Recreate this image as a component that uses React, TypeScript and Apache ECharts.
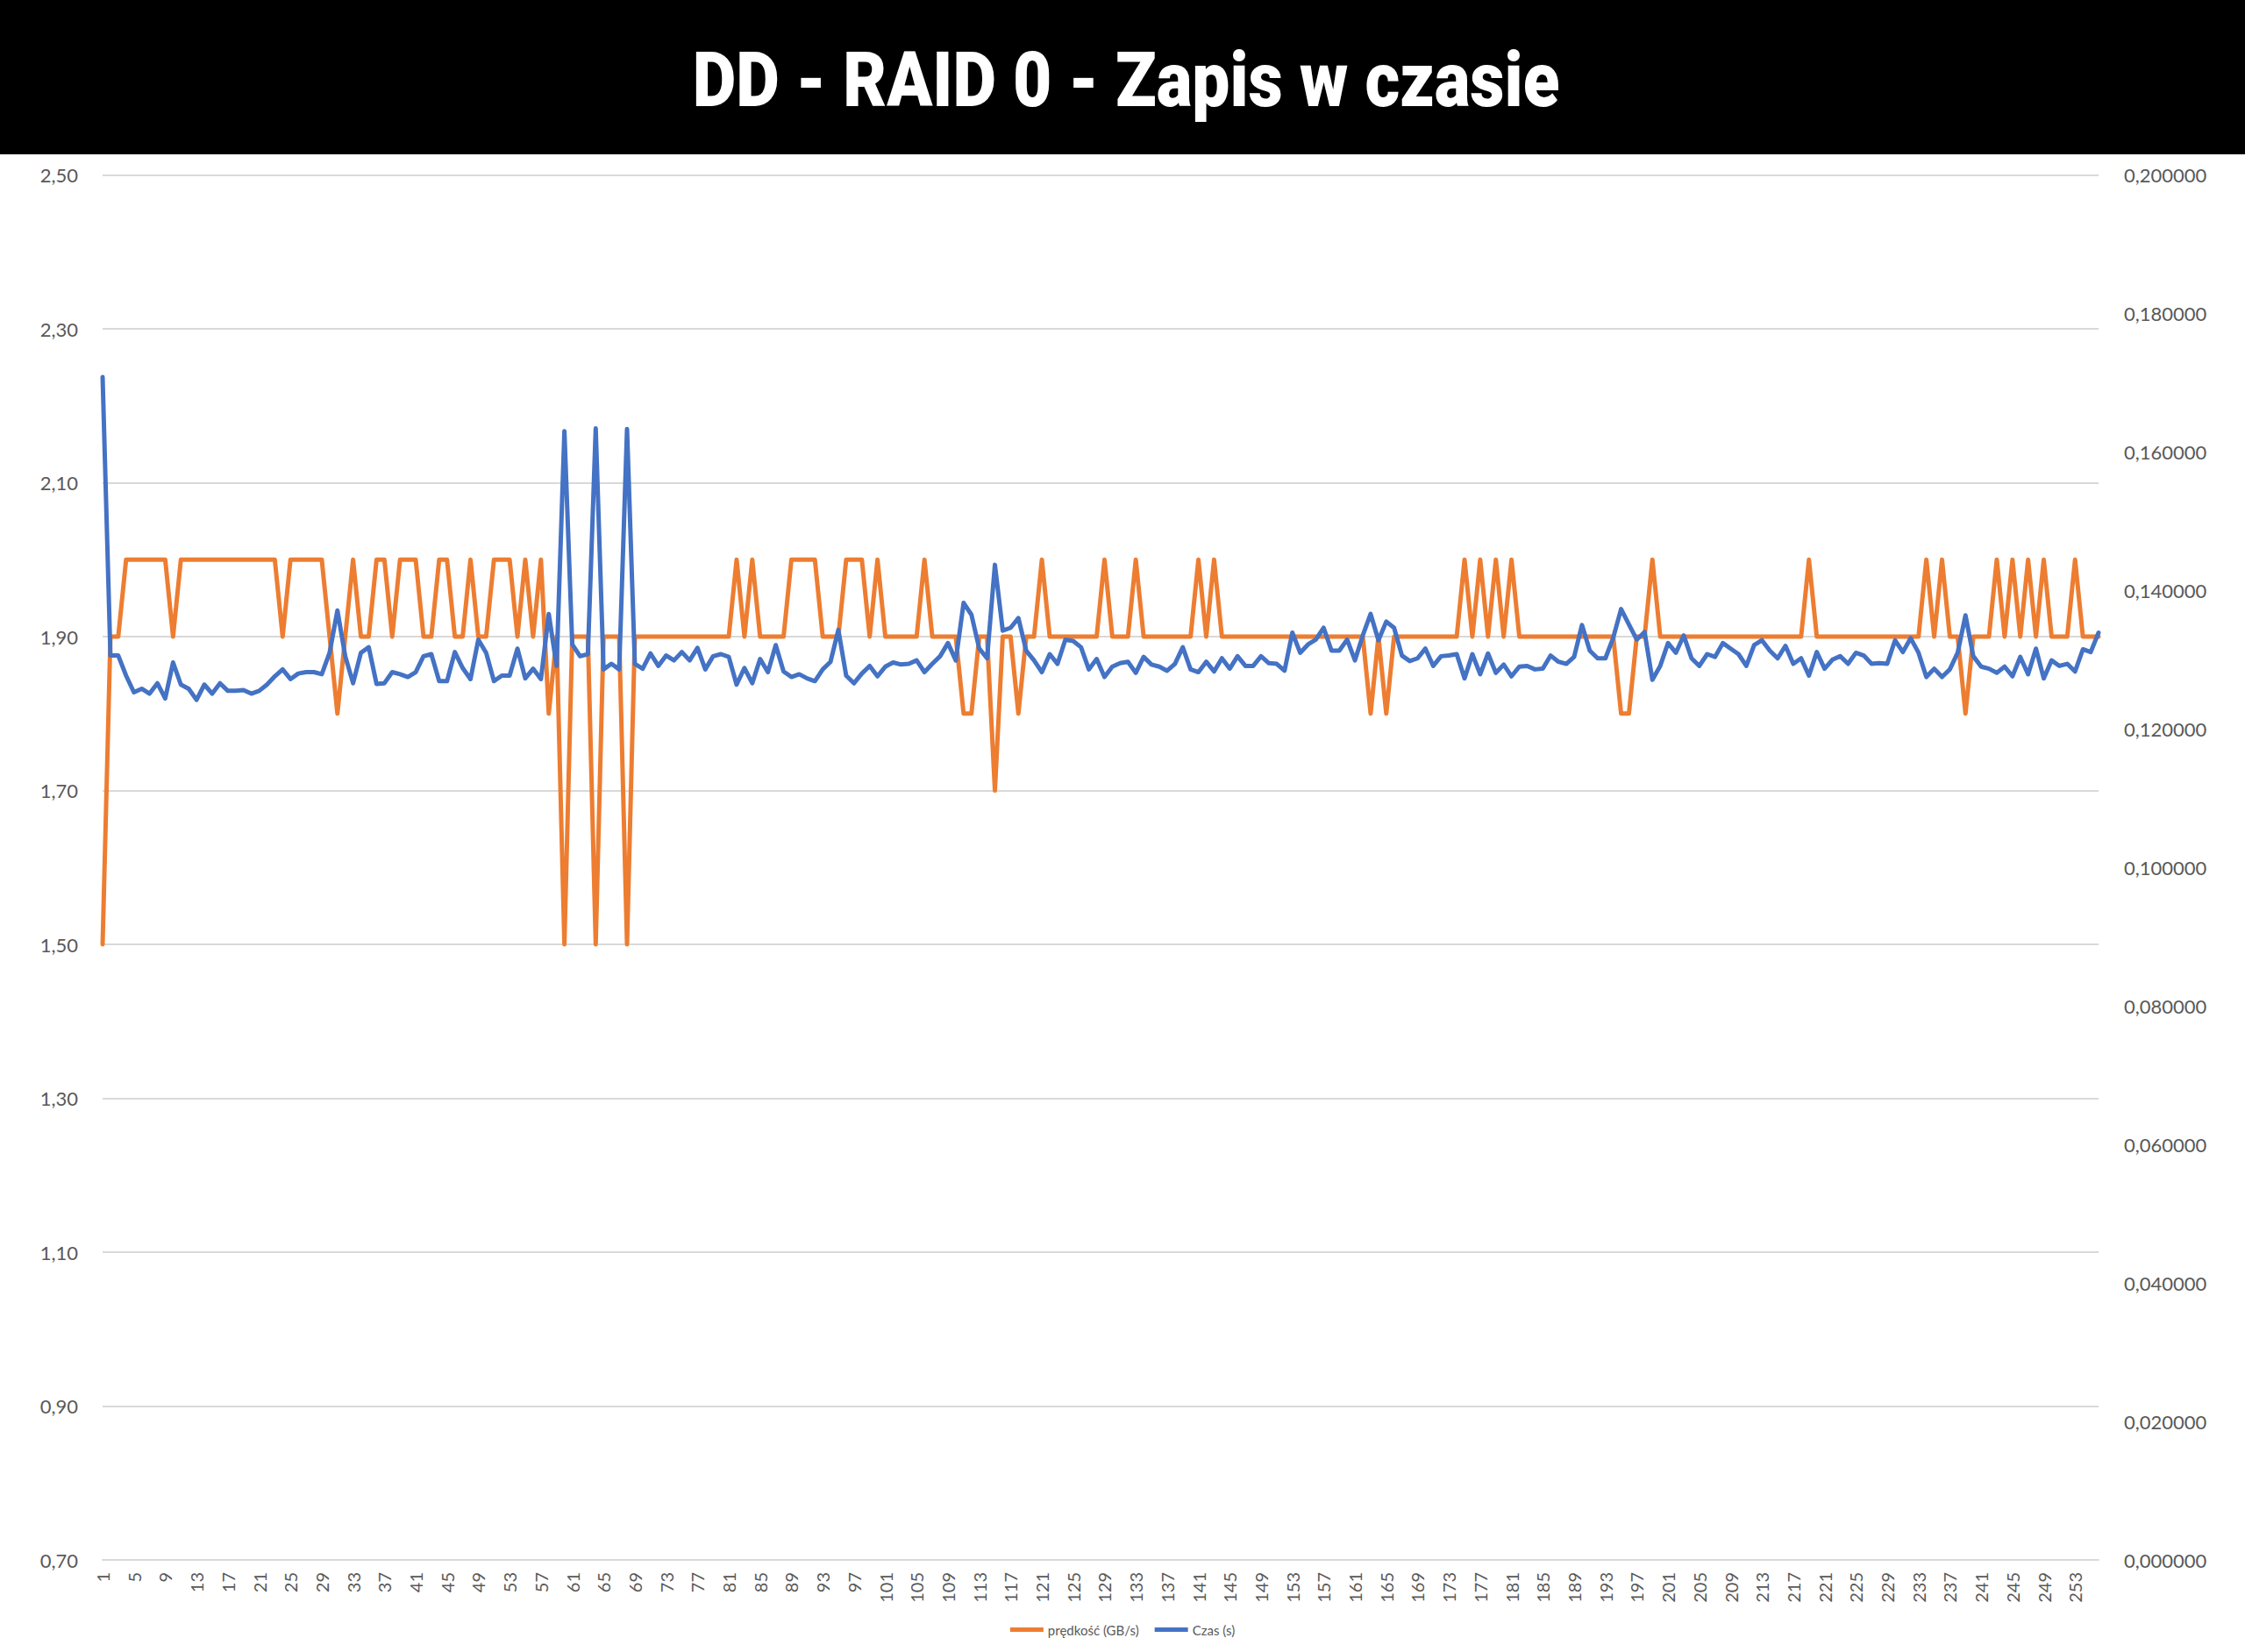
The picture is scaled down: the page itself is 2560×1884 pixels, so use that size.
import React, { useEffect, useRef } from 'react';
import * as echarts from 'echarts';

const TITLE = 'DD - RAID 0 - Zapis w czasie';
const SPEED_NAME = 'prędkość (GB/s)';
const TIME_NAME = 'Czas (s)';

const categories: string[] = Array.from({ length: 256 }, (_, i) => String(i + 1));

const speed: number[] = [
  1.5, 1.9, 1.9, 2.0, 2.0, 2.0, 2.0, 2.0, 2.0, 1.9, 2.0, 2.0, 2.0, 2.0, 2.0, 2.0,
  2.0, 2.0, 2.0, 2.0, 2.0, 2.0, 2.0, 1.9, 2.0, 2.0, 2.0, 2.0, 2.0, 1.9, 1.8, 1.9,
  2.0, 1.9, 1.9, 2.0, 2.0, 1.9, 2.0, 2.0, 2.0, 1.9, 1.9, 2.0, 2.0, 1.9, 1.9, 2.0,
  1.9, 1.9, 2.0, 2.0, 2.0, 1.9, 2.0, 1.9, 2.0, 1.8, 1.9, 1.5, 1.9, 1.9, 1.9, 1.5,
  1.9, 1.9, 1.9, 1.5, 1.9, 1.9, 1.9, 1.9, 1.9, 1.9, 1.9, 1.9, 1.9, 1.9, 1.9, 1.9,
  1.9, 2.0, 1.9, 2.0, 1.9, 1.9, 1.9, 1.9, 2.0, 2.0, 2.0, 2.0, 1.9, 1.9, 1.9, 2.0,
  2.0, 2.0, 1.9, 2.0, 1.9, 1.9, 1.9, 1.9, 1.9, 2.0, 1.9, 1.9, 1.9, 1.9, 1.8, 1.8,
  1.9, 1.9, 1.7, 1.9, 1.9, 1.8, 1.9, 1.9, 2.0, 1.9, 1.9, 1.9, 1.9, 1.9, 1.9, 1.9,
  2.0, 1.9, 1.9, 1.9, 2.0, 1.9, 1.9, 1.9, 1.9, 1.9, 1.9, 1.9, 2.0, 1.9, 2.0, 1.9,
  1.9, 1.9, 1.9, 1.9, 1.9, 1.9, 1.9, 1.9, 1.9, 1.9, 1.9, 1.9, 1.9, 1.9, 1.9, 1.9,
  1.9, 1.9, 1.8, 1.9, 1.8, 1.9, 1.9, 1.9, 1.9, 1.9, 1.9, 1.9, 1.9, 1.9, 2.0, 1.9,
  2.0, 1.9, 2.0, 1.9, 2.0, 1.9, 1.9, 1.9, 1.9, 1.9, 1.9, 1.9, 1.9, 1.9, 1.9, 1.9,
  1.9, 1.9, 1.8, 1.8, 1.9, 1.9, 2.0, 1.9, 1.9, 1.9, 1.9, 1.9, 1.9, 1.9, 1.9, 1.9,
  1.9, 1.9, 1.9, 1.9, 1.9, 1.9, 1.9, 1.9, 1.9, 1.9, 2.0, 1.9, 1.9, 1.9, 1.9, 1.9,
  1.9, 1.9, 1.9, 1.9, 1.9, 1.9, 1.9, 1.9, 1.9, 2.0, 1.9, 2.0, 1.9, 1.9, 1.8, 1.9,
  1.9, 1.9, 2.0, 1.9, 2.0, 1.9, 2.0, 1.9, 2.0, 1.9, 1.9, 1.9, 2.0, 1.9, 1.9, 1.9,
];

const time: number[] = [
  0.1708, 0.1306, 0.1306, 0.1277, 0.1253, 0.1258, 0.1251, 0.1266, 0.1244, 0.1296, 0.1264, 0.1258, 0.1242, 0.1264, 0.1251, 0.1266,
  0.1255, 0.1255, 0.1256, 0.1251, 0.1255, 0.1264, 0.1276, 0.1286, 0.1272, 0.1280, 0.1282, 0.1282, 0.1279, 0.1310, 0.1371, 0.1305,
  0.1266, 0.1310, 0.1318, 0.1265, 0.1266, 0.1282, 0.1279, 0.1275, 0.1282, 0.1305, 0.1308, 0.1269, 0.1269, 0.1311, 0.1288, 0.1272,
  0.1329, 0.1310, 0.1269, 0.1277, 0.1277, 0.1316, 0.1273, 0.1287, 0.1272, 0.1366, 0.1291, 0.1630, 0.1322, 0.1305, 0.1308, 0.1634,
  0.1286, 0.1294, 0.1286, 0.1633, 0.1294, 0.1287, 0.1309, 0.1291, 0.1306, 0.1299, 0.1311, 0.1299, 0.1317, 0.1286, 0.1305, 0.1308,
  0.1304, 0.1264, 0.1288, 0.1266, 0.1301, 0.1282, 0.1321, 0.1283, 0.1275, 0.1279, 0.1273, 0.1269, 0.1286, 0.1297, 0.1343, 0.1277,
  0.1266, 0.1280, 0.1291, 0.1276, 0.1290, 0.1296, 0.1293, 0.1294, 0.1299, 0.1282, 0.1294, 0.1305, 0.1324, 0.1299, 0.1382, 0.1365,
  0.1316, 0.1302, 0.1437, 0.1342, 0.1346, 0.1360, 0.1313, 0.1299, 0.1282, 0.1308, 0.1294, 0.1329, 0.1327, 0.1318, 0.1286, 0.1301,
  0.1275, 0.1290, 0.1295, 0.1297, 0.1281, 0.1304, 0.1293, 0.1290, 0.1284, 0.1294, 0.1318, 0.1286, 0.1282, 0.1297, 0.1283, 0.1302,
  0.1287, 0.1305, 0.1291, 0.1291, 0.1305, 0.1295, 0.1294, 0.1284, 0.1339, 0.1310, 0.1322, 0.1329, 0.1346, 0.1313, 0.1313, 0.1329,
  0.1299, 0.1335, 0.1366, 0.1328, 0.1355, 0.1346, 0.1306, 0.1298, 0.1302, 0.1316, 0.1291, 0.1305, 0.1306, 0.1308, 0.1273, 0.1308,
  0.1279, 0.1309, 0.1281, 0.1293, 0.1276, 0.1290, 0.1291, 0.1286, 0.1287, 0.1306, 0.1297, 0.1294, 0.1304, 0.1350, 0.1313, 0.1302,
  0.1302, 0.1332, 0.1373, 0.1351, 0.1329, 0.1340, 0.1271, 0.1291, 0.1324, 0.1310, 0.1335, 0.1302, 0.1291, 0.1308, 0.1304, 0.1324,
  0.1316, 0.1308, 0.1291, 0.1321, 0.1328, 0.1313, 0.1302, 0.1320, 0.1294, 0.1302, 0.1277, 0.1311, 0.1287, 0.1300, 0.1305, 0.1294,
  0.1310, 0.1306, 0.1294, 0.1295, 0.1294, 0.1328, 0.1311, 0.1331, 0.1310, 0.1275, 0.1287, 0.1275, 0.1286, 0.1310, 0.1364, 0.1305,
  0.1290, 0.1287, 0.1281, 0.1290, 0.1276, 0.1304, 0.1279, 0.1316, 0.1273, 0.1299, 0.1291, 0.1294, 0.1283, 0.1315, 0.1311, 0.1339,
];

// Axis ranges
const SPEED_MIN = 0.7;
const SPEED_MAX = 2.5;
const SPEED_STEP = 0.2;
const TIME_MIN = 0;
const TIME_MAX = 0.2;
const TIME_STEP = 0.02;

const ORANGE = '#ED7D31';
const BLUE = '#4472C4';
const GRID = '#D9D9D9';
const LABEL = '#595959';
const FONT = 'Lato, "Noto Sans", sans-serif';

export default function App() {
  const ref = useRef<HTMLDivElement>(null);

  useEffect(() => {
    if (!ref.current) return;
    const chart = echarts.init(ref.current, undefined, { renderer: 'svg' });
    const comma = (s: string) => s.replace('.', ',');
    chart.setOption({
      animation: false,
      backgroundColor: '#FFFFFF',
      graphic: [
        { type: 'rect', left: 0, top: 0, shape: { width: 2560, height: 176 }, style: { fill: '#000000' }, z: 0 },
        {
          type: 'text',
          x: 1284,
          y: 91,
          scaleX: 0.87,
          style: {
            text: TITLE,
            fill: '#FFFFFF',
            font: '900 88px Roboto, "Liberation Sans", sans-serif',
            textAlign: 'center',
            textVerticalAlign: 'middle',
          },
          z: 1,
        },
      ],
      legend: {
        data: [SPEED_NAME, TIME_NAME],
        left: 'center',
        top: 1846,
        icon: 'rect',
        itemWidth: 38,
        itemHeight: 5,
        itemGap: 18,
        textStyle: { color: LABEL, fontSize: 15, fontFamily: FONT },
      },
      grid: { left: 117, right: 167, top: 199.5, bottom: 105, containLabel: false },
      xAxis: {
        type: 'category',
        data: categories,
        boundaryGap: false,
        axisLine: { show: true, lineStyle: { color: GRID, width: 2 } },
        axisTick: { show: false },
        axisLabel: { rotate: 90, interval: 3, color: LABEL, fontSize: 20, fontFamily: FONT, margin: 14 },
        splitLine: { show: false },
      },
      yAxis: [
        {
          type: 'value',
          min: SPEED_MIN,
          max: SPEED_MAX,
          position: 'left',
          show: false,
          splitLine: { show: false },
        },
        {
          type: 'value',
          min: TIME_MIN,
          max: TIME_MAX,
          interval: TIME_STEP,
          position: 'right',
          axisLine: { show: false },
          axisTick: { show: false },
          splitLine: { show: false },
          axisLabel: {
            color: LABEL,
            fontSize: 22,
            fontFamily: FONT,
            margin: 29,
            formatter: (v: number) => comma(v.toFixed(6)),
          },
        },
        {
          // label/gridline axis for the speed scale (offset from SPEED_MIN so ticks start at 0,70)
          type: 'value',
          min: 0,
          max: SPEED_MAX - SPEED_MIN,
          interval: SPEED_STEP,
          position: 'left',
          axisLine: { show: false },
          axisTick: { show: false },
          splitLine: { show: true, lineStyle: { color: GRID, width: 2 } },
          axisLabel: {
            color: LABEL,
            fontSize: 22,
            fontFamily: FONT,
            margin: 28,
            formatter: (v: number) => comma((v + SPEED_MIN).toFixed(2)),
          },
        },
      ],
      series: [
        {
          name: SPEED_NAME,
          type: 'line',
          yAxisIndex: 0,
          data: speed,
          symbol: 'none',
          itemStyle: { color: ORANGE },
          lineStyle: { color: ORANGE, width: 5, join: 'round', cap: 'round' },
          z: 3,
        },
        {
          name: TIME_NAME,
          type: 'line',
          yAxisIndex: 1,
          data: time,
          symbol: 'none',
          itemStyle: { color: BLUE },
          lineStyle: { color: BLUE, width: 5, join: 'round', cap: 'round' },
          z: 4,
        },
      ],
    });
    return () => chart.dispose();
  }, []);

  return (
    <div
      ref={ref}
      style={{ position: 'fixed', left: 0, top: 0, width: 2560, height: 1884, background: '#fff' }}
    />
  );
}
